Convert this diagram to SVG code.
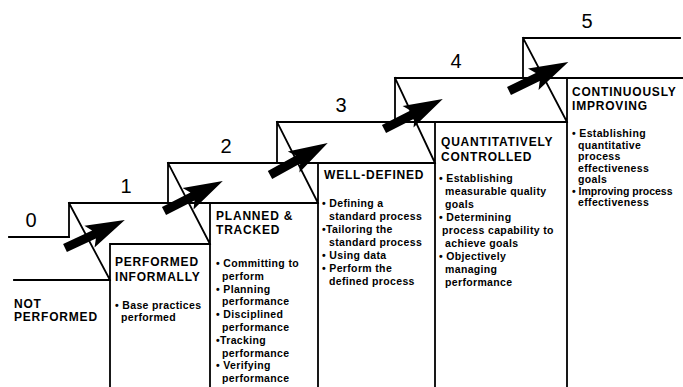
<svg xmlns="http://www.w3.org/2000/svg" xmlns:xlink="http://www.w3.org/1999/xlink" width="683" height="387" viewBox="0 0 683 387">
<style>
.ln{stroke:#000;stroke-width:1.8;fill:none;stroke-linecap:square}
.num{font-family:"Liberation Sans",Arial,sans-serif;font-size:20px;fill:#000;text-anchor:middle}
.ttl{font-family:"Liberation Sans",Arial,sans-serif;font-size:12px;font-weight:bold;letter-spacing:0.8px;fill:#000}
.bd{font-family:"Liberation Sans",Arial,sans-serif;font-size:10.5px;font-weight:bold;letter-spacing:0.35px;fill:#000}
</style>
<defs>
<path id="arr" d="M0,-4.5 L32,-4.5 L27,-12 L66,0 L27,12 L32,4.5 L0,4.5 Z" fill="#000"/>
</defs>
<rect width="683" height="387" fill="#fff"/>

<g id="level0">
<path class="ln" d="M9,237 H69 M14,280 H110"/>
<text class="num" x="31" y="227">0</text>
<text class="ttl" y="308"><tspan x="14">NOT</tspan><tspan x="14" dy="13">PERFORMED</tspan></text>
</g>

<g id="level1">
<path class="ln" d="M69,203 V237 M69,203 L110,280 M110,387 V244 H210"/>
<text class="num" x="126" y="193">1</text>
<text class="ttl" y="266"><tspan x="115">PERFORMED</tspan><tspan x="115" dy="15">INFORMALLY</tspan></text>
<text class="bd" y="309"><tspan x="115">• Base practices</tspan><tspan x="121" dy="12">performed</tspan></text>
</g>

<g id="level2">
<path class="ln" d="M69,203 H318 M168,163 V203 M168,163 L210,244 M210,387 V203"/>
<text class="num" x="226" y="153">2</text>
<text class="ttl" y="220"><tspan x="216">PLANNED &amp;</tspan><tspan x="216" dy="14">TRACKED</tspan></text>
<text class="bd" y="267"><tspan x="216">• Committing to</tspan><tspan x="222" dy="12.8">perform</tspan><tspan x="216" dy="12.8">• Planning</tspan><tspan x="222" dy="12.8">performance</tspan><tspan x="216" dy="12.8">• Disciplined</tspan><tspan x="222" dy="12.8">performance</tspan><tspan x="216" dy="12.8">•Tracking</tspan><tspan x="222" dy="12.8">performance</tspan><tspan x="216" dy="12.8">• Verifying</tspan><tspan x="222" dy="12.8">performance</tspan></text>
</g>

<g id="level3">
<path class="ln" d="M168,163 H435 M277,122 V163 M277,122 L318,203 M318,387 V163"/>
<text class="num" x="341" y="112">3</text>
<text class="ttl" x="324" y="179">WELL-DEFINED</text>
<text class="bd" y="207"><tspan x="322">• Defining a</tspan><tspan x="329" dy="13">standard process</tspan><tspan x="322" dy="13">•Tailoring the</tspan><tspan x="329" dy="13">standard process</tspan><tspan x="322" dy="13">• Using data</tspan><tspan x="322" dy="13">• Perform the</tspan><tspan x="329" dy="13">defined process</tspan></text>
</g>

<g id="level4">
<path class="ln" d="M277,122 H567 M395,78 V122 M395,78 L435,163 M435,387 V122"/>
<text class="num" x="456" y="68">4</text>
<text class="ttl" y="146"><tspan x="441">QUANTITATIVELY</tspan><tspan x="441" dy="15">CONTROLLED</tspan></text>
<text class="bd" y="182"><tspan x="439">• Establishing</tspan><tspan x="445" dy="13">measurable quality</tspan><tspan x="445" dy="13">goals</tspan><tspan x="439" dy="13">• Determining</tspan><tspan x="442" dy="13">process capability to</tspan><tspan x="445" dy="13">achieve goals</tspan><tspan x="439" dy="13">• Objectively</tspan><tspan x="445" dy="13">managing</tspan><tspan x="445" dy="13">performance</tspan></text>
</g>

<g id="level5">
<path class="ln" d="M395,78 H683 M523,38 H680 M523,38 V78 M523,38 L567,122 M567,387 V78"/>
<text class="num" x="587" y="28">5</text>
<text class="ttl" y="96"><tspan x="572">CONTINUOUSLY</tspan><tspan x="572" dy="14">IMPROVING</tspan></text>
<text class="bd" y="137"><tspan x="572">• Establishing</tspan><tspan x="578" dy="11.5">quantitative</tspan><tspan x="578" dy="11.5">process</tspan><tspan x="578" dy="11.5">effectiveness</tspan><tspan x="578" dy="11.5">goals</tspan><tspan x="572" dy="11.5" style="letter-spacing:0">• Improving process</tspan><tspan x="578" dy="11.5">effectiveness</tspan></text>
</g>

<g id="connectors">
<use xlink:href="#arr" transform="translate(65,248) rotate(-25)"/>
<use xlink:href="#arr" transform="translate(164,211) rotate(-27)"/>
<use xlink:href="#arr" transform="translate(270,175) rotate(-29)"/>
<use xlink:href="#arr" transform="translate(384,129) rotate(-27)"/>
<use xlink:href="#arr" transform="translate(509,91) rotate(-26)"/>
</g>
</svg>
